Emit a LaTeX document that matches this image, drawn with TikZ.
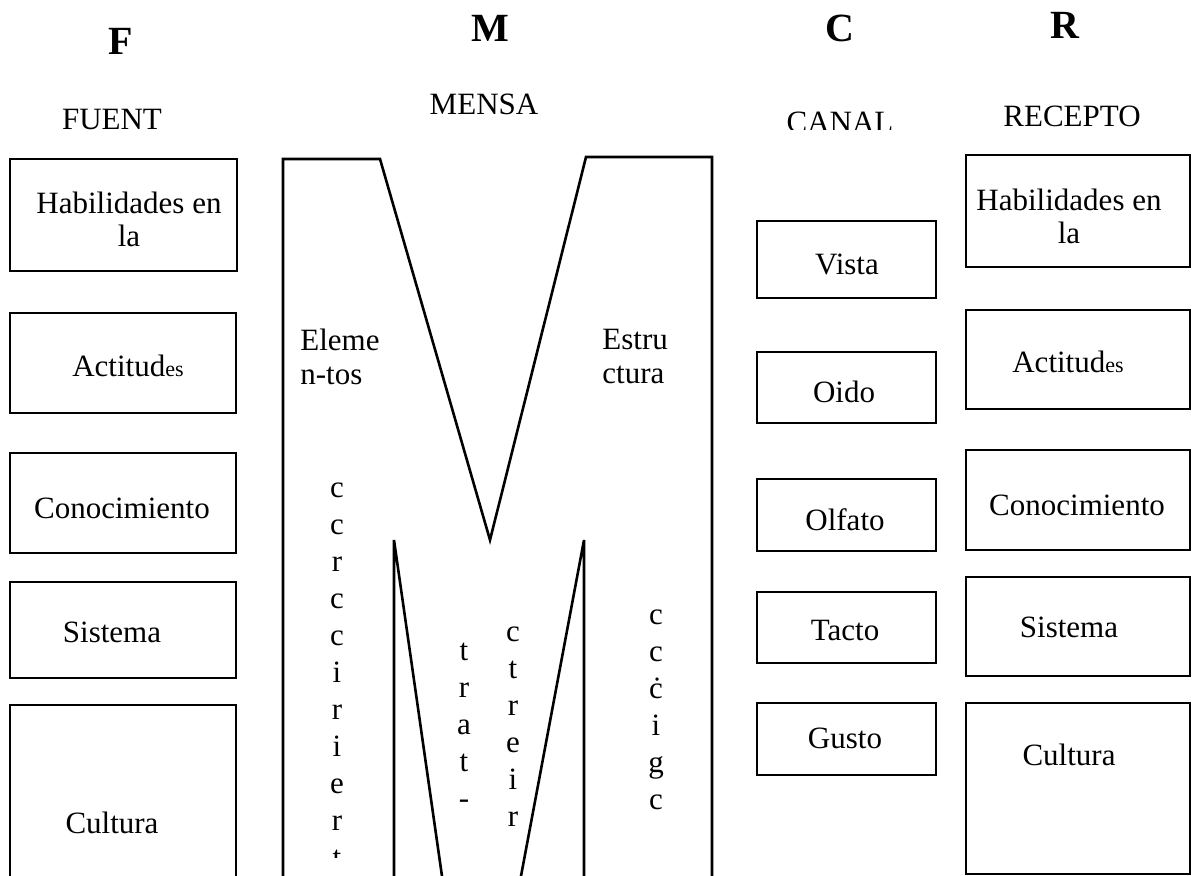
\documentclass[tikz,border=0pt]{standalone}
\usepackage{fontspec}
\setmainfont{Liberation Serif}
\usepackage{tikz}
\tikzstyle{caja}=[draw,line width=1.3pt,inner sep=0pt]
\tikzstyle{linea}=[line width=1.3pt]
\tikzstyle{texto}=[inner sep=0pt,font=\fontsize{15.5}{16.5}\selectfont]
\tikzstyle{dos}=[texto,align=center,anchor=north,execute at begin node=\strut]
\tikzstyle{trozo}=[texto,align=left,anchor=north west,font=\fontsize{15.5}{17}\selectfont,execute at begin node=\strut]
\tikzstyle{letra}=[texto,align=center,anchor=north,font=\fontsize{15.5}{18.5}\selectfont,execute at begin node=\strut]
\tikzstyle{titulo}=[inner sep=0pt,anchor=base,font=\fontsize{20}{24}\selectfont\bfseries]
\newcommand{\peque}[1]{{\fontsize{11}{12}\selectfont #1}}

\begin{document}
\begin{tikzpicture}[x=0.5pt,y=-0.5pt]
	\useasboundingbox (0,0) rectangle (1192,876);
	\clip (0,0) rectangle (1192,876);
% titulos
	\node[titulo] (F) at (121,55) {F};
	\node[titulo] (M) at (490,42) {M};
	\node[titulo] (C) at (840,42) {C};
	\node[titulo] (R) at (1065,39) {R};
	\node[texto,anchor=base] (fuente) at (112,130) {FUENT};
	\node[texto,anchor=base] (mensaje) at (484,115) {MENSA};
	\begin{scope}
	\clip (760,95) rectangle (940,130);
	\node[texto,anchor=base] (canal) at (840,133) {CANAL};
	\end{scope}
	\node[texto,anchor=base] (receptor) at (1072,127) {RECEPTO};
% fuente
	\node[caja,minimum width=113.5pt,minimum height=56pt] (f1) at (123.5,215) {};
	\node[caja,minimum width=113pt,minimum height=50pt] (f2) at (123,363) {};
	\node[caja,minimum width=113pt,minimum height=50pt] (f3) at (123,503) {};
	\node[caja,minimum width=113pt,minimum height=48pt] (f4) at (123,630) {};
	\node[caja,minimum width=113pt,minimum height=117.5pt] (f5) at (123,822.5) {};
	\node[dos] (f1t) at (129,192) {Habilidades en\\la};
	\node[texto,anchor=base] (f2t) at (128,377) {Actitud\peque{es}};
	\node[texto,anchor=base] (f3t) at (122,518) {Conocimiento};
	\node[texto,anchor=base] (f4t) at (112,642) {Sistema};
	\node[texto,anchor=base] (f5t) at (112,833) {Cultura};
% mensaje
	\draw[linea] (283,900) -- (283,159) -- (380,159) -- (490,540) -- (586,157) -- (712,157) -- (712,900);
	\draw[linea] (394,900) -- (394,540) -- (445.4,900);
	\draw[linea] (584,900) -- (584,540) -- (516.5,900);
	\node[trozo] (elem) at (300,329) {Eleme\\n-tos};
	\node[trozo] (estr) at (602,329) {Estru\\ctura};
	\begin{scope}
	\clip (300,460) rectangle (380,857);
	\node[letra] (col1) at (337,482) {c\\c\\r\\c\\c\\i\\r\\i\\e\\r\\t};
	\end{scope}
	\node[letra] (col2) at (464,643) {t\\r\\a\\t\\-};
	\node[letra] (col3) at (513,626) {c\\t\\r\\e\\i\\r};
	\node[letra] (col4) at (656,609) {c\\c\\ċ\\i\\g\\c};
% canal
	\node[caja,minimum width=89.5pt,minimum height=38.5pt] (c1) at (846.5,259.5) {};
	\node[caja,minimum width=89.5pt,minimum height=35.5pt] (c2) at (846.5,387.5) {};
	\node[caja,minimum width=89.5pt,minimum height=36pt] (c3) at (846.5,515) {};
	\node[caja,minimum width=89.5pt,minimum height=35.5pt] (c4) at (846.5,627.5) {};
	\node[caja,minimum width=89.5pt,minimum height=36pt] (c5) at (846.5,739) {};
	\node[texto,anchor=base] (c1t) at (847,275) {Vista};
	\node[texto,anchor=base] (c2t) at (844,402) {Oido};
	\node[texto,anchor=base] (c3t) at (845,530) {Olfato};
	\node[texto,anchor=base] (c4t) at (845,640) {Tacto};
	\node[texto,anchor=base] (c5t) at (845,748) {Gusto};
% receptor
	\node[caja,minimum width=112pt,minimum height=56pt] (r1) at (1078,211) {};
	\node[caja,minimum width=112pt,minimum height=49.5pt] (r2) at (1078,359.5) {};
	\node[caja,minimum width=112pt,minimum height=50pt] (r3) at (1078,500) {};
	\node[caja,minimum width=112pt,minimum height=49.5pt] (r4) at (1078,626.5) {};
	\node[caja,minimum width=112pt,minimum height=85.5pt] (r5) at (1078,788.5) {};
	\node[dos] (r1t) at (1069,189) {Habilidades en\\la};
	\node[texto,anchor=base] (r2t) at (1068,373) {Actitud\peque{es}};
	\node[texto,anchor=base] (r3t) at (1077,515) {Conocimiento};
	\node[texto,anchor=base] (r4t) at (1069,637) {Sistema};
	\node[texto,anchor=base] (r5t) at (1069,765) {Cultura};
\end{tikzpicture}
\end{document}
